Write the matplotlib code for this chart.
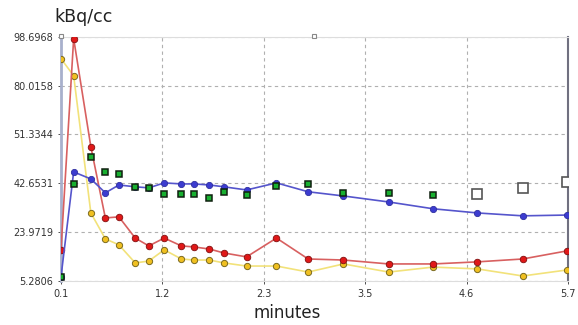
import matplotlib
matplotlib.use("Agg")
import matplotlib.pyplot as plt

# time points (minutes)
times = [0.10, 0.24, 0.43, 0.59, 0.74, 0.92, 1.07, 1.24, 1.43, 1.57, 1.74,
         1.90, 2.15, 2.48, 2.83, 3.22, 3.72, 4.21, 4.70, 5.20, 5.69]

blue = [6.8, 47.0, 44.3, 39.0, 42.0, 41.3, 40.9, 42.8, 42.4, 42.4, 42.0,
        41.3, 40.1, 42.8, 39.4, 37.8, 35.5, 32.9, 31.3, 30.2, 30.5]
red = [17.2, 98.0, 56.6, 29.4, 29.8, 21.7, 18.7, 21.7, 18.7, 18.3, 17.5,
       16.0, 14.5, 21.7, 13.7, 13.3, 11.8, 11.8, 12.6, 13.7, 16.8]
yellow = [90.3, 83.8, 31.3, 21.4, 19.1, 12.2, 12.9, 17.2, 13.7, 13.3, 13.3,
          12.2, 11.0, 11.0, 8.7, 11.8, 8.7, 10.6, 9.9, 7.2, 9.5]
green_t = [0.10, 0.24, 0.43, 0.59, 0.74, 0.92, 1.07, 1.24, 1.43, 1.57, 1.74,
           1.90, 2.15, 2.48, 2.83, 3.22, 3.72, 4.21]
green = [6.8, 42.4, 52.8, 47.0, 46.3, 41.3, 40.9, 38.6, 38.6, 38.6, 37.1,
         39.4, 38.2, 41.7, 42.4, 39.0, 39.0, 38.2]
hollow_t = [4.70, 5.20, 5.69]
hollow = [38.6, 40.9, 43.2]
offscale_t = [0.10, 2.89]
offscale = [98.9, 98.9]

yticks = [5.2806, 23.9719, 42.6531, 61.3344, 80.0156, 98.6968]
ytick_labels = ["5.2806", "23.9719", "42.6531", "51.3344", "80.0158", "98.6968"]
xticks = [0.1, 1.22, 2.34, 3.46, 4.58, 5.7]
xtick_labels = ["0.1", "1.2", "2.3", "3.5", "4.6", "5.7"]

fig = plt.figure(figsize=(5.78, 3.25), dpi=100)
ax = fig.add_axes([0.1055, 0.1354, 0.8772, 0.7516])

ax.plot(times, yellow, color="#f2e27a", lw=1.2, marker="o", ms=4.5,
        mfc="#f0c020", mec="#7a6a20", mew=0.7, zorder=3)
ax.plot(times, red, color="#d86060", lw=1.2, marker="o", ms=4.7,
        mfc="#e01818", mec="#801010", mew=0.6, zorder=3)
ax.plot(times, blue, color="#5555cc", lw=1.2, marker="o", ms=4.5,
        mfc="#3c3cd0", mec="#3030a0", mew=0.6, zorder=4)
ax.plot(green_t, green, ls="none", marker="s", ms=5,
        mfc="#18b030", mec="#102010", mew=1.1, zorder=5)
ax.plot(hollow_t, hollow, ls="none", marker="s", ms=6.5,
        mfc="white", mec="#555555", mew=1.2, zorder=5)
ax.plot(offscale_t, offscale, ls="none", marker="s", ms=3.5,
        mfc="white", mec="#888888", mew=0.8, zorder=6, clip_on=False)

ax.set_xlim(0.1, 5.7)
ax.set_ylim(5.2806, 98.6968)
ax.set_xticks(xticks)
ax.set_xticklabels(xtick_labels)
ax.set_yticks(yticks)
ax.set_yticklabels(ytick_labels)
ax.tick_params(labelsize=7, colors="#333333", length=2, width=0.6)
ax.grid(True, ls=(0, (3, 3)), color="#b0b0b0", lw=0.8)

ax.spines["left"].set_color("#a8b0cc")
ax.spines["left"].set_linewidth(2)
ax.spines["right"].set_color("#707080")
ax.spines["right"].set_linewidth(1.5)
ax.spines["top"].set_color("#dddddd")
ax.spines["bottom"].set_color("#dddddd")

fig.text(0.144, 0.948, "kBq/cc", fontsize=12.5, ha="center", va="center",
         color="#222222")
fig.text(0.497, 0.037, "minutes", fontsize=12, ha="center", va="center",
         color="#222222")

fig.savefig("out.png", dpi=100)
